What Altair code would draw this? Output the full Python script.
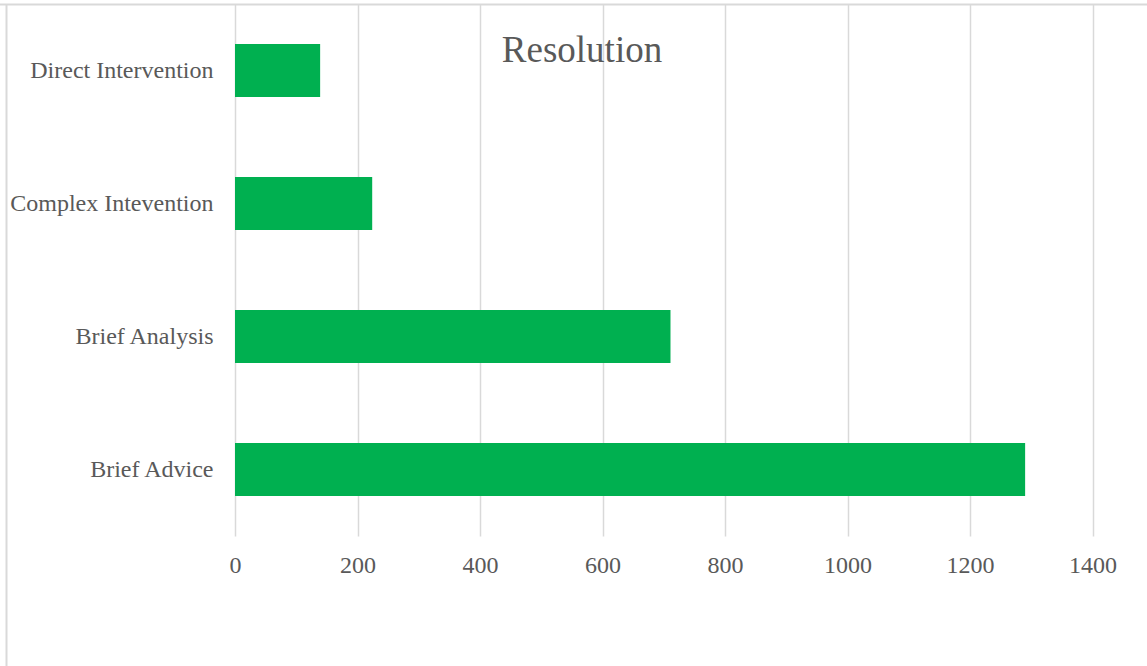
import altair as alt
import pandas as pd

categories = ["Direct Intervention", "Complex Intevention", "Brief Analysis", "Brief Advice"]
values = [139, 224, 711, 1290]
title_text = "Resolution"
x_ticks = [0, 200, 400, 600, 800, 1000, 1200, 1400]

df = pd.DataFrame({"category": categories, "value": values})

FONT = "Liberation Serif"
GREY = "#595959"
GRID = "#d9d9d9"

bars = alt.Chart(df).mark_bar(color="#00b050").encode(
    x=alt.X("value:Q",
            scale=alt.Scale(domain=[0, 1400], nice=False),
            axis=alt.Axis(values=x_ticks, title=None, grid=True, gridColor=GRID,
                          gridWidth=1.5, domain=False, ticks=False, format="d",
                          labelFont=FONT, labelFontSize=24, labelColor=GREY,
                          labelPadding=17, labelFlush=False)),
    y=alt.Y("category:N", sort=categories,
            scale=alt.Scale(paddingInner=0.6, paddingOuter=0.3),
            axis=alt.Axis(title=None, grid=False, domain=False, ticks=False,
                          labelFont=FONT, labelFontSize=24, labelColor=GREY,
                          labelPadding=22, labelLimit=0)),
)

title_df = pd.DataFrame({"t": [title_text]})
title = alt.Chart(title_df).mark_text(
    font=FONT, fontSize=37, color=GREY, align="center", baseline="alphabetic"
).encode(x=alt.value(347), y=alt.value(58), text="t:N")

frame_df = pd.DataFrame({"k": [0]})
top_border = alt.Chart(frame_df).mark_rule(color=GRID, strokeWidth=2).encode(
    x=alt.value(-236), x2=alt.value(913), y=alt.value(0.5))
left_border = alt.Chart(frame_df).mark_rule(color=GRID, strokeWidth=2).encode(
    x=alt.value(-228.5), y=alt.value(0.5), y2=alt.value(663))

chart = alt.layer(top_border, left_border, bars, title).properties(
    width=857.5, height=532,
    autosize=alt.AutoSizeParams(type="none"),
    padding={"left": 235, "right": 54.5, "top": 4, "bottom": 130},
    background="white",
).configure_view(stroke=None)

chart.save("out.html", embed_options={"renderer": "svg", "actions": False})
